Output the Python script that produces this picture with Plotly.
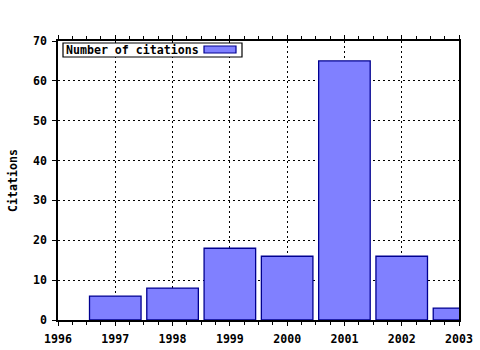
import plotly.graph_objects as go

years = [1997, 1998, 1999, 2000, 2001, 2002, 2003]
citations = [6, 8, 18, 16, 65, 16, 3]
x_ticks = [1996, 1997, 1998, 1999, 2000, 2001, 2002, 2003]
y_ticks = [0, 10, 20, 30, 40, 50, 60, 70]
series_name = "Number of citations"

BAR_FILL = "#8080ff"
BAR_EDGE = "#000090"
font = dict(family="DejaVu Sans Mono", size=11.6, color="black", weight="bold")

fig = go.Figure()
fig.add_trace(go.Bar(
    x=years, y=citations, width=0.9,
    name=series_name,
    marker=dict(color=BAR_FILL, line=dict(color=BAR_EDGE, width=1.3)),
))

# plot area in pixels: x 58..459, y 41..320
L, R, T, B = 58, 459, 41, 320
def px(x):
    return (x - L) / (R - L)
def py(y):
    return (B - y) / (B - T)

fig.add_shape(type="rect", xref="paper", yref="paper",
              x0=px(63), x1=px(242), y0=py(57), y1=py(43),
              fillcolor="white", line=dict(color="black", width=1.2), layer="above")
fig.add_shape(type="rect", xref="paper", yref="paper",
              x0=px(204), x1=px(236), y0=py(53), y1=py(46),
              fillcolor=BAR_FILL, line=dict(color=BAR_EDGE, width=1.2), layer="above")
fig.add_annotation(xref="paper", yref="paper", x=px(64), y=py(50),
                   xanchor="left", yanchor="middle", text=series_name,
                   showarrow=False, font=font)

fig.update_layout(
    width=480, height=350,
    margin=dict(l=L, r=480 - R, t=T, b=350 - B),
    paper_bgcolor="white", plot_bgcolor="white",
    font=font,
    showlegend=False,
    xaxis=dict(
        range=[1996, 2003], tickvals=x_ticks, ticktext=[str(v) for v in x_ticks],
        showline=True, linecolor="black", linewidth=1.5, mirror="allticks",
        ticks="outside", ticklen=4, tickcolor="black", ticklabelstandoff=3,
        showgrid=True, gridcolor="black", griddash="2px,3px", gridwidth=1,
        minor=dict(dtick=0.25, tick0=1996, ticks="outside", ticklen=3, tickcolor="black", showgrid=False),
        zeroline=False, tickfont=font, automargin=False,
    ),
    yaxis=dict(
        range=[0, 70], tickvals=y_ticks,
        showline=True, linecolor="black", linewidth=1.5, mirror=True,
        ticks="outside", ticklen=4, tickcolor="black", ticklabelstandoff=3,
        showgrid=True, gridcolor="black", griddash="2px,3px", gridwidth=1,
        zeroline=False, tickfont=font, automargin=False,
        title=dict(text="Citations", font=font, standoff=13),
    ),
)

fig.write_html("out.html")
